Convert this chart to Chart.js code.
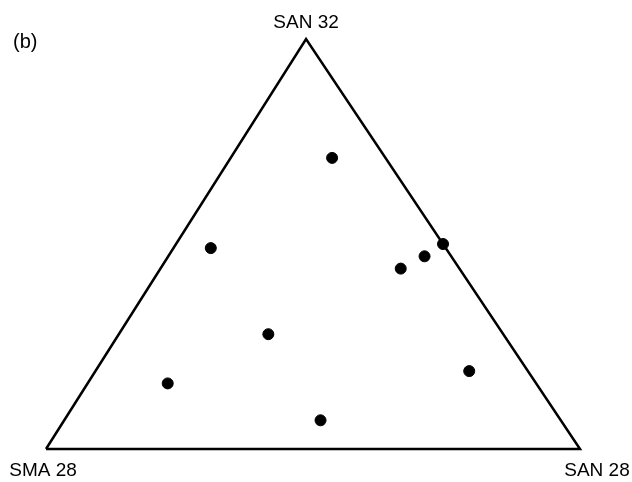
<!DOCTYPE html>
<html>
<head>
<meta charset="utf-8">
<script src="https://cdn.jsdelivr.net/npm/chart.js@4/dist/chart.umd.min.js"></script>
<style>
  body { margin: 0; background: #fff; }
  #tern { display: block; }
</style>
</head>
<body>
<canvas id="tern" width="632" height="482"></canvas>
<script>
// corner labels of the ternary diagram
const cornerLeft = 'SMA 28';
const cornerRight = 'SAN 28';
const cornerTop = 'SAN 32';
const panelTag = '(b)';

// composition of each sample, in percent of the three end members
const fracSMA28 = [10, 44, 0, 5, 11, 44, 69, 11, 45];
const fracSAN28 = [19, 7, 50, 48, 45, 28, 15, 70, 48];
const fracSAN32 = [71, 49, 50, 47, 44, 28, 16, 19, 7];

// apex sits a little left of centre in this drawing
const apexX = 0.487;

function toXY(a, b, c) {
    const s = a + b + c;
    b = b / s; c = c / s;
    return { x: b + apexX * c, y: c };
}

const samplePoints = fracSMA28.map((a, i) => toXY(a, fracSAN28[i], fracSAN32[i]));
const frame = [toXY(1, 0, 0), toXY(0, 1, 0), toXY(0, 0, 1), toXY(1, 0, 0)];

const labelFont = '19px "Liberation Sans", Arial, sans-serif';

// corner labels and panel tag, placed from the scales
const cornerText = {
    id: 'cornerText',
    afterDraw(chart) {
        const ctx = chart.ctx;
        const xs = chart.scales.x, ys = chart.scales.y;
        ctx.save();
        ctx.fillStyle = '#000';
        ctx.font = labelFont;
        ctx.textAlign = 'center';
        ctx.textBaseline = 'alphabetic';
        ctx.fillText(cornerTop, xs.getPixelForValue(apexX), ys.getPixelForValue(1) - 11);
        ctx.fillText(cornerLeft, xs.getPixelForValue(0) - 3, ys.getPixelForValue(0) + 27);
        ctx.fillText(cornerRight, xs.getPixelForValue(1) + 17, ys.getPixelForValue(0) + 27);
        ctx.textAlign = 'left';
        ctx.font = '20px "Liberation Sans", Arial, sans-serif';
        ctx.fillText(panelTag, 13, 48);
        ctx.restore();
    }
};

new Chart(document.getElementById('tern'), {
    type: 'scatter',
    data: {
        datasets: [
            {
                label: 'frame',
                data: frame,
                showLine: true,
                borderColor: '#000',
                borderWidth: 2.5,
                borderJoinStyle: 'miter',
                pointRadius: 0,
                clip: false
            },
            {
                label: 'samples',
                data: samplePoints,
                backgroundColor: '#000',
                borderColor: '#000',
                pointRadius: 5.5,
                pointHoverRadius: 5.5,
                clip: false
            }
        ]
    },
    options: {
        responsive: false,
        animation: false,
        events: [],
        layout: { padding: { left: 46, right: 52, top: 39, bottom: 33 } },
        plugins: { legend: { display: false }, tooltip: { enabled: false } },
        scales: {
            x: { type: 'linear', min: 0, max: 1, display: false },
            y: { type: 'linear', min: 0, max: 1, display: false }
        }
    },
    plugins: [cornerText]
});
</script>
</body>
</html>
